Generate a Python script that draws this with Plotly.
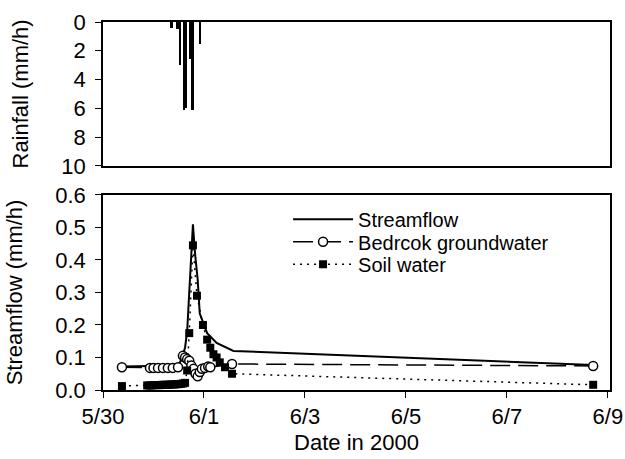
import plotly.graph_objects as go

# ---- Rainfall (hourly, mm/h) ----
rain_time = ["2000-05-31 08:30", "2000-05-31 11:30", "2000-05-31 12:30",
             "2000-05-31 14:30", "2000-05-31 15:30", "2000-05-31 17:30",
             "2000-05-31 18:30", "2000-05-31 22:00"]
rain_mm = [0.4, 0.5, 3.0, 6.1, 6.0, 2.6, 6.1, 1.5]

# ---- Streamflow (mm/h) ----
flow_time = ["2000-05-30 09:00", "2000-05-31 12:00", "2000-05-31 13:30",
             "2000-05-31 15:00", "2000-05-31 16:00", "2000-05-31 17:20",
             "2000-05-31 18:45", "2000-05-31 19:45", "2000-05-31 21:00",
             "2000-05-31 22:00", "2000-06-01 01:30", "2000-06-01 06:00",
             "2000-06-01 14:00", "2000-06-08 17:00"]
flow_val = [0.072, 0.075, 0.10, 0.13, 0.18, 0.34, 0.51, 0.42, 0.34,
            0.235, 0.175, 0.145, 0.12, 0.077]

# ---- Bedrock groundwater (mm/h) ----
bed_time = ["2000-05-30 09:00", "2000-05-30 22:20", "2000-05-31 00:00",
            "2000-05-31 02:10", "2000-05-31 04:30", "2000-05-31 06:50",
            "2000-05-31 09:10", "2000-05-31 11:40", "2000-05-31 14:00",
            "2000-05-31 15:00", "2000-05-31 16:00", "2000-05-31 17:00",
            "2000-05-31 18:00", "2000-05-31 19:00", "2000-05-31 20:00",
            "2000-05-31 21:00", "2000-05-31 22:00", "2000-05-31 23:00",
            "2000-06-01 00:30", "2000-06-01 02:00", "2000-06-01 03:00",
            "2000-06-01 13:20", "2000-06-08 17:00"]
bed_val = [0.070, 0.068, 0.068, 0.068, 0.068, 0.068, 0.068, 0.070, 0.105,
           0.100, 0.095, 0.090, 0.075, 0.065, 0.050, 0.042, 0.055, 0.065,
           0.068, 0.072, 0.070, 0.080, 0.074]

# ---- Soil water (mm/h) ----
soil_time = ["2000-05-30 09:00", "2000-05-30 21:00", "2000-05-30 22:00",
             "2000-05-30 23:00", "2000-05-31 00:00", "2000-05-31 01:00",
             "2000-05-31 02:00", "2000-05-31 03:00", "2000-05-31 04:00",
             "2000-05-31 05:00", "2000-05-31 06:00", "2000-05-31 07:00",
             "2000-05-31 08:00", "2000-05-31 09:00", "2000-05-31 10:00",
             "2000-05-31 11:00", "2000-05-31 12:00", "2000-05-31 13:00",
             "2000-05-31 14:00", "2000-05-31 15:00", "2000-05-31 16:00",
             "2000-05-31 17:00", "2000-05-31 18:45", "2000-05-31 20:40",
             "2000-05-31 23:30", "2000-06-01 01:30", "2000-06-01 03:00",
             "2000-06-01 04:30", "2000-06-01 06:00", "2000-06-01 07:30",
             "2000-06-01 10:00", "2000-06-01 13:20", "2000-06-08 17:00"]
soil_val = [0.012, 0.014, 0.014, 0.014, 0.015, 0.015, 0.015, 0.015, 0.016,
            0.016, 0.016, 0.016, 0.017, 0.017, 0.017, 0.018, 0.018, 0.019,
            0.020, 0.022, 0.060, 0.175, 0.445, 0.290, 0.200, 0.155, 0.130,
            0.110, 0.100, 0.085, 0.070, 0.050, 0.016]

x_range = ["2000-05-30 00:00", "2000-06-09 01:00"]
FONT = "Liberation Sans, Arial, sans-serif"
FS = 22
LFS = 20

fig = go.Figure()

fig.add_trace(go.Bar(x=rain_time, y=rain_mm, width=3600000 * 1.2,
                     marker=dict(color="black", line=dict(width=0)),
                     showlegend=False, xaxis="x", yaxis="y"))

fig.add_trace(go.Scatter(x=flow_time, y=flow_val, mode="lines",
                         name="Streamflow", legend="legend",
                         line=dict(color="black", width=2),
                         xaxis="x2", yaxis="y2"))
fig.add_trace(go.Scatter(x=bed_time, y=bed_val, mode="lines+markers",
                         name="Bedrcok groundwater", legend="legend2",
                         line=dict(color="black", width=1.5, dash="20px,8px"),
                         marker=dict(symbol="circle", size=9, color="white",
                                     line=dict(color="black", width=1.5)),
                         xaxis="x2", yaxis="y2"))
fig.add_trace(go.Scatter(x=soil_time, y=soil_val, mode="lines+markers",
                         name="Soil water", legend="legend3",
                         line=dict(color="black", width=1.5, dash="2px,5px"),
                         marker=dict(symbol="square", size=8, color="black"),
                         xaxis="x2", yaxis="y2"))

axis_common = dict(showline=True, linecolor="black", linewidth=1.5,
                   mirror=True, showgrid=False, zeroline=False,
                   ticklen=6, tickcolor="black", tickwidth=1.2,
                   automargin=False,
                   tickfont=dict(family=FONT, size=FS, color="black"))

legend_common = dict(x=0.365, xanchor="left", yanchor="middle",
                     bgcolor="rgba(0,0,0,0)", borderwidth=0,
                     font=dict(family=FONT, size=LFS, color="black"),
                     itemwidth=60)

fig.update_layout(
    width=625, height=459,
    margin=dict(l=103, r=15, t=22, b=69),
    paper_bgcolor="white", plot_bgcolor="white",
    font=dict(family=FONT, size=FS, color="black"),
    xaxis=dict(domain=[0, 1], anchor="y", range=x_range, type="date",
               showticklabels=False, ticks="", **axis_common),
    yaxis=dict(domain=[0.609, 1], anchor="x", range=[10, 0], dtick=2,
               ticks="outside", ticklabelstandoff=5,
               title=dict(text="Rainfall (mm/h)", standoff=27,
                          font=dict(family=FONT, size=FS)),
               **axis_common),
    xaxis2=dict(domain=[0, 1], anchor="y2", range=x_range, type="date",
                tickformat="%-m/%-d", dtick=2 * 86400000,
                tick0="2000-05-30", ticks="outside",
                title=dict(text="Date in 2000", standoff=6,
                           font=dict(family=FONT, size=FS)),
                **axis_common),
    yaxis2=dict(domain=[0, 0.53], anchor="x2", range=[0, 0.6], dtick=0.1,
                tickformat=".1f", ticks="outside", ticklabelstandoff=5,
                title=dict(text="Streamflow (mm/h)", standoff=27,
                           font=dict(family=FONT, size=FS)),
                **axis_common),
    legend=dict(y=0.464, **legend_common),
    legend2=dict(y=0.403, **legend_common),
    legend3=dict(y=0.342, **legend_common),
    bargap=0,
)

fig.write_html("out.html",
               config={"displayModeBar": False},
               post_script="document.body.style.margin='0';")
